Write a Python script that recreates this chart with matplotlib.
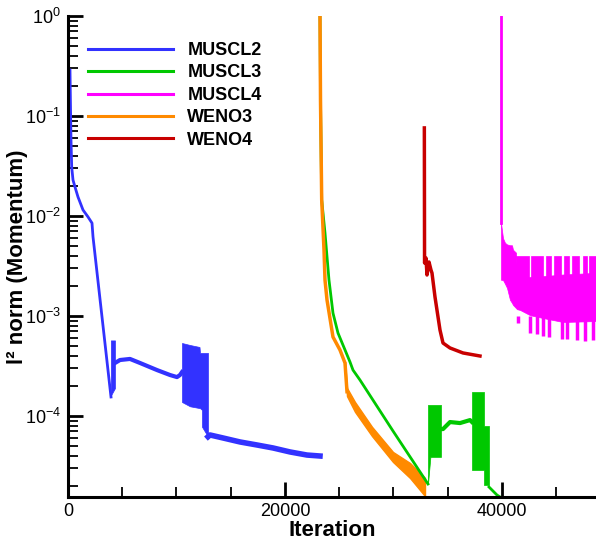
import matplotlib
matplotlib.use("Agg")
import matplotlib.pyplot as plt
from matplotlib.ticker import MultipleLocator, LogLocator

plt.rcParams['font.family'] = ['Liberation Sans', 'DejaVu Sans']
plt.rcParams['mathtext.fontset'] = 'custom'
plt.rcParams['mathtext.rm'] = 'Liberation Sans'
plt.rcParams['mathtext.it'] = 'Liberation Sans:italic'
plt.rcParams['mathtext.bf'] = 'Liberation Sans:bold'
plt.rcParams['axes.unicode_minus'] = False

# ---------------- data (iterations, residual) ----------------
series_names = ["MUSCL2", "MUSCL3", "MUSCL4", "WENO3", "WENO4"]

# MUSCL2
m2_x1 = [184, 230, 276, 341, 461, 645, 922, 1382, 1843, 2212, 2304, 3963]
m2_y1 = [0.288, 0.123, 0.0575, 0.0309, 0.0229, 0.0195, 0.0155, 0.0115, 0.0098, 0.0085, 0.0062, 1.55e-4]
m2_sp_x = [3950, 4330]
m2_sp_hi = [5.7e-4, 5.7e-4]
m2_sp_lo = [1.6e-4, 1.9e-4]
m2_x2 = [4330, 4793, 5714, 6636, 8203, 9401, 10046, 10323, 10507]
m2_y2 = [3.39e-4, 3.63e-4, 3.72e-4, 3.39e-4, 2.88e-4, 2.57e-4, 2.45e-4, 2.57e-4, 2.75e-4]
m2_bd_x = [10507, 11244, 12120, 12166, 12350, 12350, 12903]
m2_bd_hi = [5.37e-4, 5.13e-4, 4.9e-4, 4.27e-4, 4.27e-4, 4.27e-4, 4.27e-4]
m2_bd_lo = [1.38e-4, 1.25e-4, 1.2e-4, 1.2e-4, 1.15e-4, 7.8e-5, 6.2e-5]
m2_x3 = [12903, 13088, 14286, 15853, 17419, 18894, 20461, 22028, 23226]
m2_y3 = [6.2e-5, 6.46e-5, 6.03e-5, 5.5e-5, 5.13e-5, 4.79e-5, 4.37e-5, 4.07e-5, 3.98e-5]

# MUSCL3
m3_x1 = [23226, 23272, 23382, 23687, 24055, 24423, 24884, 25991, 26267, 26912, 29954, 33180]
m3_y1 = [1.0, 0.145, 0.0145, 6.76e-3, 2.29e-3, 1.07e-3, 6.76e-4, 3.47e-4, 2.88e-4, 2.29e-4, 7.08e-5, 2.09e-5]
m3_b1_x = [33180, 33400, 34378]
m3_b1_hi = [1.29e-4, 1.29e-4, 1.29e-4]
m3_b1_lo = [2.1e-5, 3.9e-5, 3.9e-5]
m3_x2 = [34378, 34562, 35211, 36133, 37051, 37235]
m3_y2 = [7.4e-5, 7.4e-5, 8.7e-5, 8.5e-5, 9.1e-5, 8.7e-5]
m3_b2_x = [37235, 38341, 38341, 38802]
m3_b2_hi = [1.74e-4, 1.74e-4, 7.9e-5, 7.9e-5]
m3_b2_lo = [2.88e-5, 2.88e-5, 2.04e-5, 2.04e-5]
m3_x3 = [38802, 39540, 39816]
m3_y3 = [1.95e-5, 1.62e-5, 1.55e-5]

# MUSCL4
m4_x1 = [39908, 39908]
m4_y1 = [1.0, 8.5e-3]
m4_bx = [39908, 40093, 40277, 40461, 40737, 40922, 41014, 41290, 41383, 41659, 42581, 43779, 45622, 48664]
m4_bhi = [8.5e-3, 6.0e-3, 5.4e-3, 5.2e-3, 5.1e-3, 5.1e-3, 4.6e-3, 4.3e-3, 2.4e-3, 2.4e-3, 2.45e-3, 2.5e-3, 2.6e-3, 2.7e-3]
m4_blo = [2.3e-3, 2.29e-3, 2.1e-3, 1.91e-3, 1.45e-3, 1.35e-3, 1.29e-3, 1.2e-3, 1.17e-3, 1.15e-3, 1.02e-3, 9.55e-4, 8.71e-4, 8.9e-4]
m4_up_x0 = [41290, 42673, 44055, 44793, 45714, 46452, 47465, 48018]
m4_up_x1 = [42489, 43779, 44516, 45438, 46175, 47097, 47834, 48664]
m4_up_top = 3.98e-3
m4_up_bot = 2.3e-3
m4_dn_x = [41475, 42581, 43226, 43779, 44332, 45530, 45991, 46912, 47650, 48387]
m4_dn_y = [8.5e-4, 6.8e-4, 6.6e-4, 6.3e-4, 6.2e-4, 5.9e-4, 5.9e-4, 5.75e-4, 5.6e-4, 5.75e-4]
m4_dn_top = 1.0e-3

# WENO3
w3_x1 = [23226, 23272, 23382, 23595, 23687, 23871, 24423, 25069, 25530, 25714]
w3_y1 = [1.0, 0.145, 0.0145, 4.57e-3, 2.29e-3, 1.45e-3, 6.17e-4, 4.57e-4, 3.39e-4, 1.75e-4]
w3_bx = [25530, 25714, 26452, 28018, 29954, 31521, 32904]
w3_bhi = [3.5e-4, 1.91e-4, 1.38e-4, 7.8e-5, 4.37e-5, 3.39e-5, 2.4e-5]
w3_blo = [3.0e-4, 1.58e-4, 1.10e-4, 6.3e-5, 3.47e-5, 2.4e-5, 1.58e-5]

# WENO4
w4_x = [32843, 32862, 32996, 33088, 33272, 33456, 33548, 33825, 34286, 34562, 35207, 36405, 37972]
w4_y = [0.076, 3.39e-3, 3.8e-3, 2.57e-3, 3.47e-3, 2.88e-3, 2.69e-3, 1.55e-3, 7.24e-4, 5.37e-4, 4.79e-4, 4.27e-4, 3.98e-4]

# ---------------- plotting ----------------
c_blue = '#3232ff'
c_green = '#00c800'
c_mag = '#ff00ff'
c_orange = '#ff8a00'
c_red = '#c80000'
lw = 2.0

fig = plt.figure(figsize=(5.96, 5.42), dpi=100)
ax = fig.add_axes([68/596, 1-497/542, 528/596, 481/542])
ax.set_yscale('log')

# MUSCL2
h_m2, = ax.plot(m2_x1, m2_y1, color=c_blue, lw=lw, label=series_names[0])
ax.fill_between(m2_sp_x, m2_sp_lo, m2_sp_hi, color=c_blue, lw=0.5)
ax.plot(m2_x2, m2_y2, color=c_blue, lw=3.0)
ax.fill_between(m2_bd_x, m2_bd_lo, m2_bd_hi, color=c_blue, lw=0.5)
ax.plot(m2_x3, m2_y3, color=c_blue, lw=4.0)

# MUSCL3
h_m3, = ax.plot(m3_x1, m3_y1, color=c_green, lw=lw, label=series_names[1])
ax.fill_between(m3_b1_x, m3_b1_lo, m3_b1_hi, color=c_green, lw=0.5)
ax.plot(m3_x2, m3_y2, color=c_green, lw=3.0)
ax.fill_between(m3_b2_x, m3_b2_lo, m3_b2_hi, color=c_green, lw=0.5)
ax.plot(m3_x3, m3_y3, color=c_green, lw=lw)

# MUSCL4
h_m4, = ax.plot(m4_x1, m4_y1, color=c_mag, lw=lw, label=series_names[2])
ax.fill_between(m4_bx, m4_blo, m4_bhi, color=c_mag, lw=0.5)
ax.bar(m4_up_x0, [m4_up_top - m4_up_bot] * len(m4_up_x0),
       width=[b - a for a, b in zip(m4_up_x0, m4_up_x1)],
       bottom=m4_up_bot, align='edge', color=c_mag, edgecolor=c_mag, lw=0.5)
ax.vlines(m4_dn_x, m4_dn_y, m4_dn_top, color=c_mag, lw=2.5)

# WENO3
h_w3, = ax.plot(w3_x1, w3_y1, color=c_orange, lw=2.5, label=series_names[3])
ax.fill_between(w3_bx, w3_blo, w3_bhi, color=c_orange, lw=1.0, edgecolor=c_orange)

# WENO4
h_w4, = ax.plot(w4_x, w4_y, color=c_red, lw=2.5, label=series_names[4])

ax.set_xlim(0, 48664)
ax.set_ylim(10**-4.81, 1.0)

for s in ['top', 'right']:
    ax.spines[s].set_visible(False)
for s in ['left', 'bottom']:
    ax.spines[s].set_linewidth(2.2)

ax.xaxis.set_major_locator(MultipleLocator(20000))
ax.xaxis.set_minor_locator(MultipleLocator(5000))
ax.yaxis.set_major_locator(LogLocator(base=10, numticks=10))
ax.yaxis.set_minor_locator(LogLocator(base=10, subs=range(2, 10), numticks=20))
ax.tick_params(which='major', direction='in', length=11, width=2, labelsize=13,
               top=False, right=False)
ax.tick_params(which='minor', direction='in', length=7, width=1.3,
               top=False, right=False)
ax.tick_params(axis='y', which='major', pad=5)
ax.tick_params(axis='x', which='major', pad=4)

ax.set_xlabel('Iteration', fontsize=16, fontweight='bold', labelpad=0)
ax.set_ylabel('l² norm (Momentum)', fontsize=16, fontweight='bold')
ax.yaxis.set_label_coords(-40/528, 0.5)

leg = ax.legend(handles=[h_m2, h_m3, h_m4, h_w3, h_w4], loc='upper left',
                bbox_to_anchor=(20/528, (497-42)/481), frameon=False,
                prop={'weight': 'bold', 'size': 13}, handlelength=4.7,
                handletextpad=0.8, labelspacing=0.3, borderpad=0, borderaxespad=0)
for line in leg.get_lines():
    line.set_linewidth(2.2)

fig.savefig('out.png', dpi=100)
